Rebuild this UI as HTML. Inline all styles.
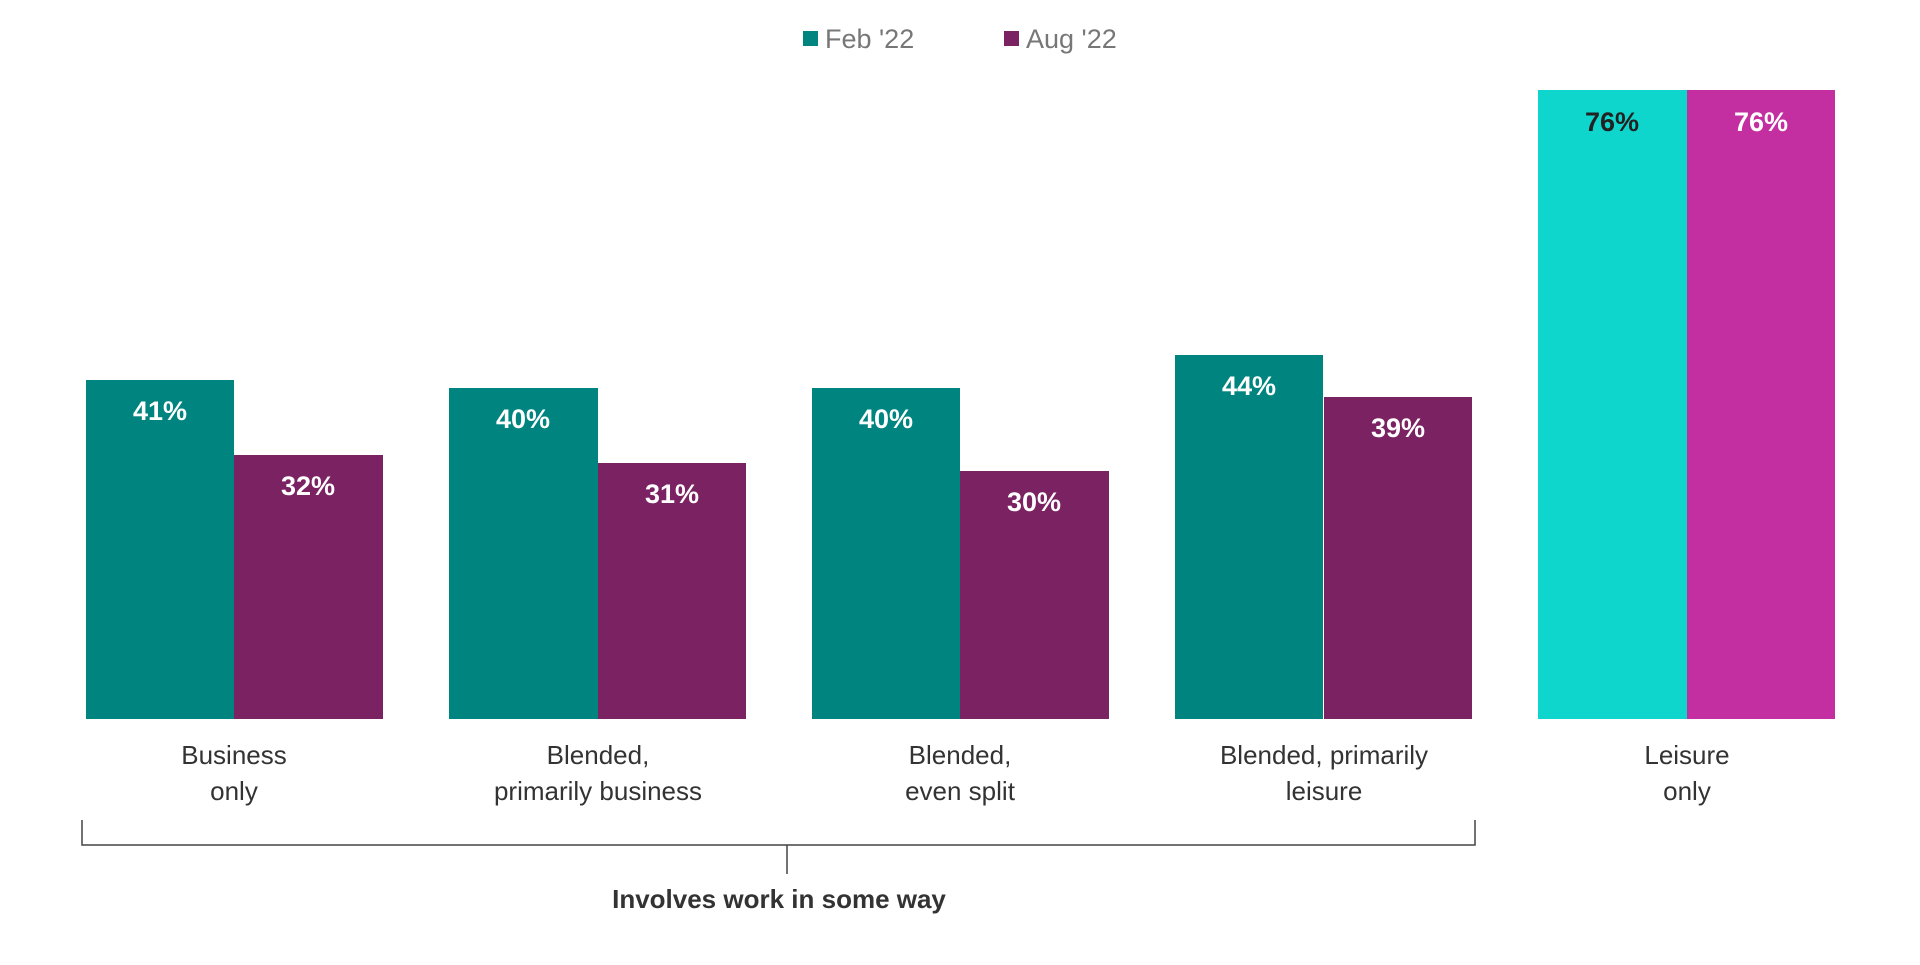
<!DOCTYPE html>
<html><head><meta charset="utf-8"><style>
body{margin:0;width:1920px;height:960px;background:#fff;overflow:hidden;font-family:"Liberation Sans",sans-serif}
</style></head><body>
<svg width="1920" height="960" xmlns="http://www.w3.org/2000/svg" font-family="Liberation Sans, sans-serif">
<rect x="803" y="31" width="15" height="15" fill="#008480"/>
<text x="825" y="48" font-size="27" fill="#777">Feb '22</text>
<rect x="1004" y="31" width="15" height="15" fill="#7a2262"/>
<text x="1026" y="48" font-size="27" fill="#777">Aug '22</text>
<g font-weight="bold" font-size="27" text-anchor="middle" fill="#fff">
<rect x="86" y="380" width="148" height="339" fill="#008480"/><text x="160" y="420">41%</text>
<rect x="234" y="455" width="149" height="264" fill="#7a2262"/><text x="308" y="495">32%</text>
<rect x="449" y="388" width="149" height="331" fill="#008480"/><text x="523" y="428">40%</text>
<rect x="598" y="463" width="148" height="256" fill="#7a2262"/><text x="672" y="503">31%</text>
<rect x="812" y="388" width="148" height="331" fill="#008480"/><text x="886" y="428">40%</text>
<rect x="960" y="471" width="149" height="248" fill="#7a2262"/><text x="1034" y="511">30%</text>
<rect x="1175" y="355" width="148" height="364" fill="#008480"/><text x="1249" y="395">44%</text>
<rect x="1324" y="397" width="148" height="322" fill="#7a2262"/><text x="1398" y="437">39%</text>
<rect x="1538" y="90" width="149" height="629" fill="#0fd6cc"/><text x="1612" y="131" fill="#222">76%</text>
<rect x="1687" y="90" width="148" height="629" fill="#c32fa0"/><text x="1761" y="131">76%</text>
</g>
<g font-size="26" text-anchor="middle" fill="#333">
<text x="234" y="764">Business</text><text x="234" y="800">only</text>
<text x="598" y="764">Blended,</text><text x="598" y="800">primarily business</text>
<text x="960" y="764">Blended,</text><text x="960" y="800">even split</text>
<text x="1324" y="764">Blended, primarily</text><text x="1324" y="800">leisure</text>
<text x="1687" y="764">Leisure</text><text x="1687" y="800">only</text>
</g>
<path d="M82 820V845H1475V820M787 845V874" fill="none" stroke="#444" stroke-width="1.5"/>
<text x="779" y="908" font-size="26" font-weight="bold" text-anchor="middle" fill="#333">Involves work in some way</text>
</svg>
</body></html>
